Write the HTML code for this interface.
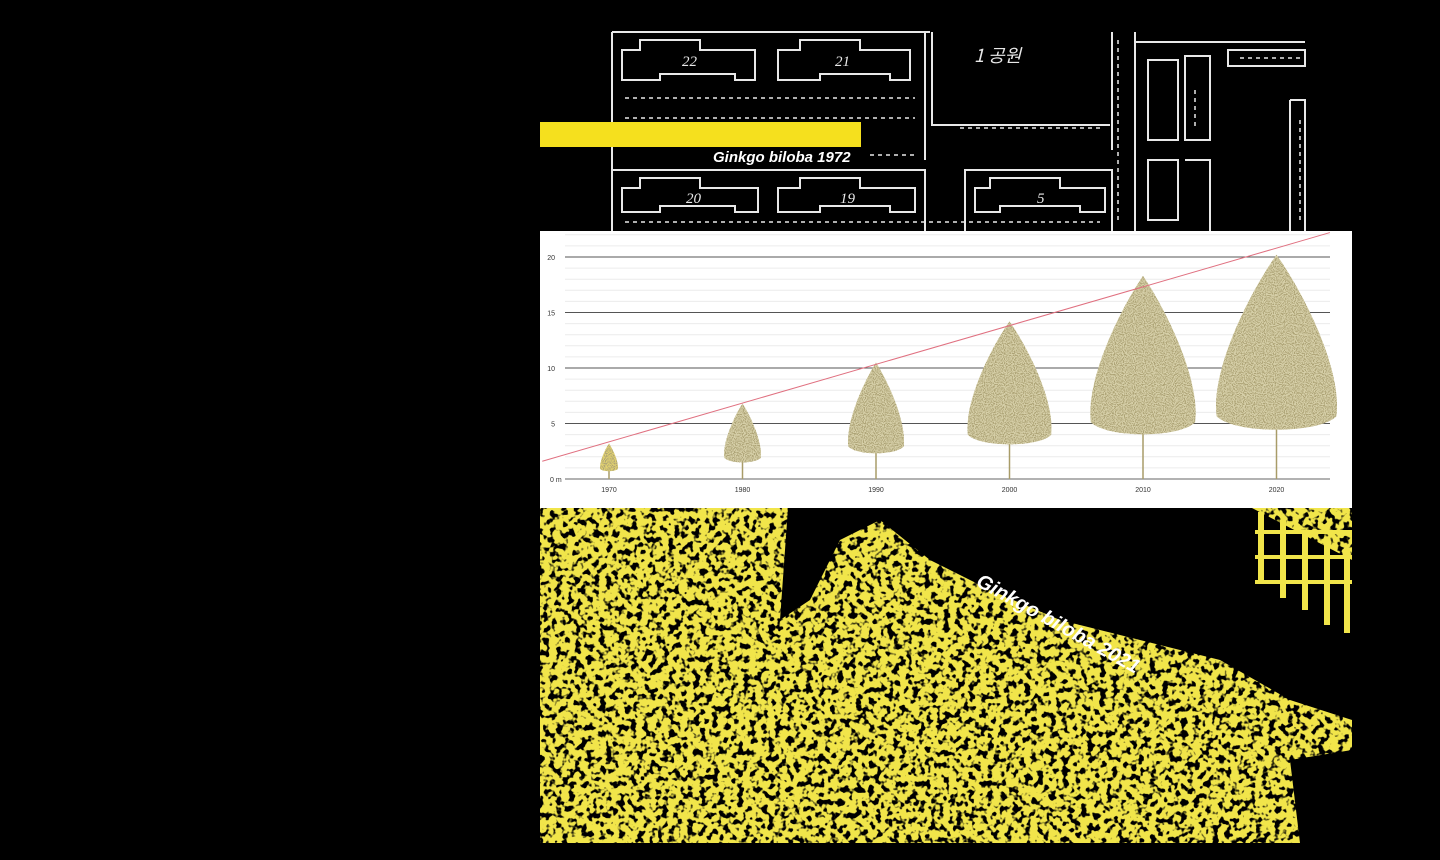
<!DOCTYPE html>
<html><head><meta charset="utf-8">
<style>
html,body{margin:0;padding:0;background:#000;width:1440px;height:860px;overflow:hidden;font-family:"Liberation Sans",sans-serif}
svg{position:absolute;left:0;top:0}
</style></head>
<body>
<svg width="1440" height="860" viewBox="0 0 1440 860">
<defs>
<filter id="noise" x="0" y="0" width="100%" height="100%">
<feTurbulence type="fractalNoise" baseFrequency="0.16" numOctaves="2" seed="4"/>
<feColorMatrix type="matrix" values="0 0 0 0 0  0 0 0 0 0  0 0 0 0 0  0 0 0 -9 4.4"/>
</filter>
<filter id="speck" x="0" y="0" width="100%" height="100%">
<feTurbulence type="fractalNoise" baseFrequency="0.9" numOctaves="1" seed="3"/>
<feColorMatrix type="matrix" values="0 0 0 0 0.42  0 0 0 0 0.37  0 0 0 0 0.18  0 0 0 -7 3.8"/>
<feComposite in2="SourceGraphic" operator="in"/>
</filter>
</defs>
<rect width="1440" height="860" fill="#000"/>

<g fill="none" stroke="#e8e8e8" stroke-width="2">
<rect x="540" y="30" width="812" height="201" fill="#000" stroke="none"/>
<path d="M612 32 V231 M612 32 H930"/>
<path d="M622 50 H640 V40 H700 V50 H755 V80 H735 V74 H660 V80 H622 Z"/>
<path d="M778 50 H800 V40 H860 V50 H910 V80 H890 V74 H820 V80 H778 Z"/>
<path d="M622 188 H640 V178 H700 V188 H758 V212 H735 V206 H660 V212 H622 Z"/>
<path d="M778 188 H800 V178 H860 V188 H915 V212 H890 V206 H820 V212 H778 Z"/>
<path d="M975 188 H990 V178 H1060 V188 H1105 V212 H1080 V206 H1000 V212 H975 Z"/>
<path d="M612 170 H925 V231 M965 231 V170 H1112 V231 M925 32 V160 M932 32 V125 H1110 M1112 32 V150"/>
<path d="M1135 32 V231 M1135 42 H1305 M1228 50 H1305 V66 H1228 Z M1185 56 H1210 V140 H1185 Z M1148 60 H1178 V140 H1148 Z M1148 160 H1178 V220 H1148 Z M1185 160 H1210 V231 M1290 100 V231 M1290 100 H1305 V231"/>
<g stroke-width="1.5" stroke-dasharray="4 4">
<path d="M625 98 H915 M625 118 H915 M870 155 H915 M960 128 H1100 M1118 40 V220 M1195 90 V130 M1240 58 H1300 M1300 120 V220 M625 222 H1100"/>
</g>
<g fill="#e8e8e8" stroke="none" font-family="Liberation Serif,serif" font-size="15" font-style="italic">
<text x="682" y="66">22</text>
<text x="835" y="66">21</text>
<text x="686" y="203">20</text>
<text x="840" y="203">19</text>
<text x="1037" y="203">5</text>
<text x="974" y="62" font-size="18" font-family="Noto Sans CJK KR,sans-serif">1 공원</text>
</g>
</g>
<rect x="540" y="122" width="321" height="25" fill="#f5e01e"/>
<text x="713" y="162" fill="#fff" font-size="15" font-weight="bold" font-style="italic">Ginkgo biloba 1972</text>

<rect x="540" y="231" width="812" height="277" fill="#fff"/>
<g id="chart"></g>

<g>
<rect x="540" y="508" width="812" height="335" fill="#f1e54a"/>
<rect x="540" y="508" width="812" height="335" filter="url(#noise)"/>
<polygon fill="#000" points="788,508 1252,508 1352,560 1352,720 1290,700 1220,660 1140,640 1060,620 990,590 930,560 880,520 840,540 810,600 780,620"/>
<polygon fill="#000" points="1290,760 1352,750 1352,843 1300,843"/>
<g fill="#f1e54a">
<rect x="1258" y="512" width="6" height="70"/><rect x="1280" y="520" width="6" height="78"/><rect x="1302" y="530" width="6" height="80"/><rect x="1324" y="540" width="6" height="85"/><rect x="1344" y="548" width="6" height="85"/>
<rect x="1255" y="530" width="97" height="4"/><rect x="1255" y="555" width="97" height="4"/><rect x="1255" y="580" width="97" height="4"/>
</g>
<text x="0" y="0" transform="translate(975,585) rotate(29)" fill="#fff" font-size="20" font-weight="bold" font-style="italic">Ginkgo biloba 2021</text>
</g>
</svg>
<script>
const years=[1970,1980,1990,2000,2010,2020];
const heights=[3.2,6.8,10.5,14.2,18.3,20.2];
const crownWidths=[1.6,3.3,5.0,7.5,9.4,10.8];
const yTicks=[0,5,10,15,20];
const yTickLabels=["0 m","5","10","15","20"];
const trendStart=[1965,1.6];
const trendEnd=[2024,22.2];
const NS="http://www.w3.org/2000/svg";
const g=document.getElementById('chart');
const xS=v=>609+(v-1970)*13.35;
const yS=v=>479-v*11.1;
const mS=v=>v*11.1;
function el(t,a){const e=document.createElementNS(NS,t);for(const k in a)e.setAttribute(k,a[k]);g.appendChild(e);return e;}
for(let m=1;m<=22;m++){if(m%5===0)continue;const l=el('line',{x1:565,x2:1330,y1:yS(m),y2:yS(m),stroke:'#ececec','stroke-width':1});

}
yTicks.forEach((t,i)=>{const l=el('line',{x1:565,x2:1330,y1:yS(t),y2:yS(t),stroke:t===0?'#999':'#555','stroke-width':t===0?1.5:1});


const tx=el('text',{x:t===0?550:555,y:yS(t)+3,'font-size':7,fill:'#333','text-anchor':t===0?'start':'end'});


tx.textContent=yTickLabels[i];});
years.forEach((yr,i)=>{const x=xS(yr),h=heights[i],w=mS(crownWidths[i]);const top=yS(h),base=yS(0);
const ch=base-top, cb=base-ch*0.2;
const tr=el('line',{x1:x,x2:x,y1:base,y2:cb-ch*0.2,stroke:'#a89c68','stroke-width':1.5});


const d=`M${x} ${top} C ${x+w*0.2} ${top+ch*0.15}, ${x+w*0.55} ${top+ch*0.5}, ${x+w*0.5} ${cb-ch*0.08} C ${x+w*0.35} ${cb}, ${x-w*0.35} ${cb}, ${x-w*0.5} ${cb-ch*0.08} C ${x-w*0.55} ${top+ch*0.5}, ${x-w*0.2} ${top+ch*0.15}, ${x} ${top} Z`;
const p=el('path',{d:d,fill:i===0?'#e0d070':'#d6cfa8'});


const sp=el('path',{d:d,fill:'#fff',filter:'url(#speck)'});


const tx=el('text',{x:x,y:492,'font-size':7,fill:'#333','text-anchor':'middle'});


tx.textContent=yr;});
const x0=Math.max(540,xS(trendStart[0]));
const tl=el('line',{x1:x0,y1:yS(trendStart[1]+(trendEnd[1]-trendStart[1])*(x0-xS(trendStart[0]))/(xS(trendEnd[0])-xS(trendStart[0]))),x2:xS(trendEnd[0]),y2:yS(trendEnd[1]),stroke:'#e07080','stroke-width':1});


</script>
</body></html>
